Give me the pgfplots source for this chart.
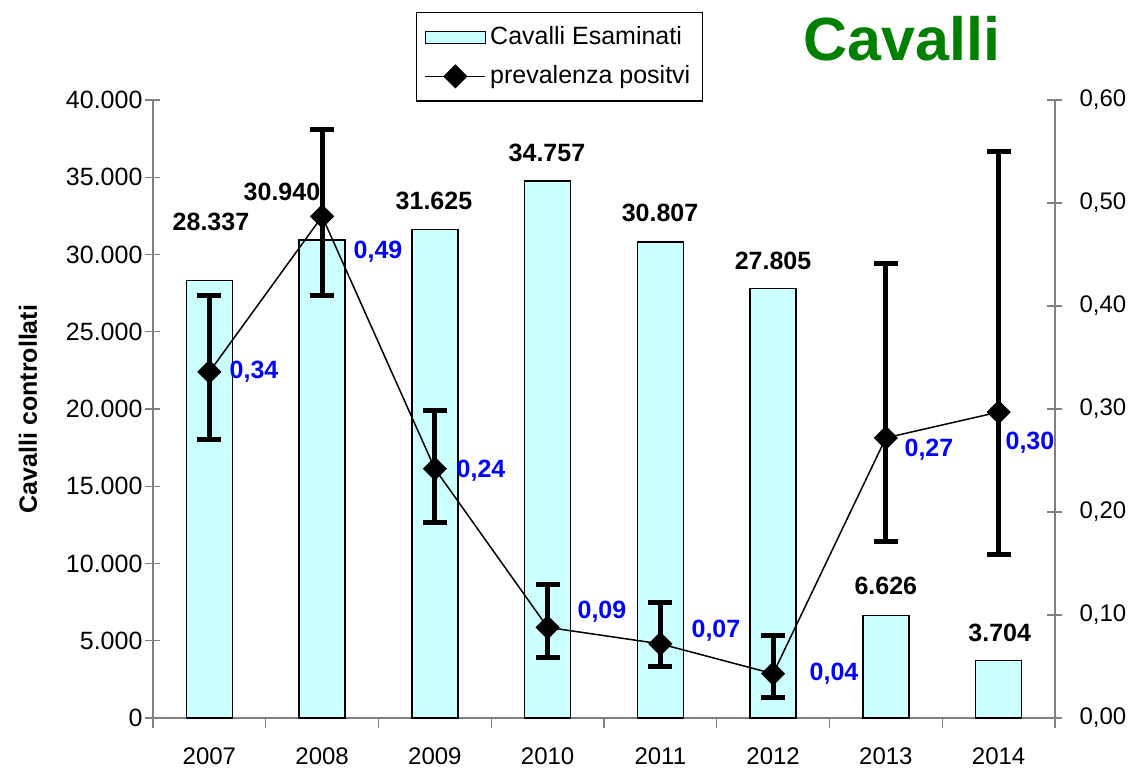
\documentclass[border=0pt]{standalone}
\usepackage{pgfplots}
\pgfplotsset{compat=1.18}
\usepackage{pgfplotstable}
\usepackage{fontspec}
\setmainfont{Liberation Sans}
\definecolor{barcyan}{HTML}{CCFFFF}
\definecolor{titlegreen}{HTML}{008000}
\definecolor{axgray}{HTML}{808080}
\definecolor{lblblue}{HTML}{0000FF}

\pgfplotstableread{
x n
0 28337
1 30940
2 31625
3 34757
4 30807
5 27805
6 6626
7 3704
}\bars

\pgfplotstableread{
x p ep em
0 0.336 0.074 0.066
1 0.487 0.084 0.077
2 0.242 0.057 0.052
3 0.088 0.042 0.029
4 0.072 0.040 0.022
5 0.043 0.037 0.023
6 0.272 0.169 0.101
7 0.297 0.253 0.138
}\prev

\pgfplotsset{common/.style={
  width=451pt, height=309pt, scale only axis,
  xmin=-0.5, xmax=7.5,
  axis line style={axgray, line width=0.7pt},
  tick style={axgray, line width=0.7pt},
  tick align=center, major tick length=7.5pt,
  ticklabel style={font=\fontsize{12.5}{14}\selectfont},
  /pgf/number format/assume math mode=true,
  clip=false,
},
barlegend/.style={legend image code/.code={\draw[fill=barcyan,draw=black,line width=0.7pt] (0pt,-3pt) rectangle (30pt,3pt);}},
linelegend/.style={legend image code/.code={\draw[mark repeat=2,mark phase=2,##1] plot coordinates {(0pt,0pt) (15pt,0pt) (30pt,0pt)};}},
}

\begin{document}
\begin{tikzpicture}
\begin{axis}[common,
  ymin=0, ymax=40000, ytick={0,5000,...,40000},
  axis x line*=bottom, axis y line*=left,
  xtick={0,...,7}, xticklabels={2007,2008,2009,2010,2011,2012,2013,2014},
  major x tick style={draw=none},
  minor xtick={-0.5,0.5,...,7.5}, minor tick length=5pt,
  minor x tick style={yshift=-2.5pt, axgray, line width=0.7pt},
  scaled y ticks=false,
  yticklabel style={xshift=2pt, /pgf/number format/.cd, 1000 sep={.}},
  xticklabel style={yshift=-7.5pt, font=\fontsize{12}{14}\selectfont},
  ylabel={\bfseries Cavalli controllati},
  ylabel style={font=\fontsize{12.5}{15}\selectfont, at={(axis description cs:-0.1386,0.5)}, anchor=center},
]
\addplot[ybar, bar width=23pt, fill=barcyan, draw=black, line width=0.7pt] table[x=x,y=n]{\bars};
\coordinate (O) at (rel axis cs:0,0);
\begin{scope}[every node/.style={font=\bfseries\fontsize{12.5}{15}\selectfont, anchor=center}]
\node at (axis cs:0.014,32104) {28.337};
\node at (axis cs:0.644,34045) {30.940};
\node at (axis cs:1.992,33463) {31.625};
\node at (axis cs:2.994,36570) {34.757};
\node at (axis cs:3.997,32686) {30.807};
\node at (axis cs:4.999,29579) {27.805};
\node at (axis cs:6.0,8544) {6.626};
\node at (axis cs:7.01,5502) {3.704};
\end{scope}
\end{axis}
\begin{axis}[common,
  ymin=0, ymax=0.6, ytick={0,0.1,0.2,0.3,0.4,0.5,0.6},
  axis y line*=right, axis x line=none,
  yticklabel style={xshift=5pt, font=\fontsize{12}{14}\selectfont, /pgf/number format/.cd, fixed, fixed zerofill, precision=2, use comma},
  legend style={at={(axis description cs:0.2916,1.1424)}, anchor=north west,
    draw=black, line width=0.7pt, font=\fontsize{12.5}{15}\selectfont,
    inner xsep=4pt, inner ysep=5pt, row sep=5pt, cells={anchor=west}},
]
\addlegendimage{barlegend}
\addlegendentry{Cavalli Esaminati}
\addplot[black, line width=0.75pt, mark=square*, mark size=3.9pt, mark options={rotate=45},
  linelegend,
  error bars/.cd, y dir=both, y explicit,
  error bar style={line width=2.5pt},
  error mark options={rotate=90, mark size=6pt, line width=2.5pt}]
  table[x=x, y=p, y error plus=ep, y error minus=em]{\prev};
\addlegendentry{prevalenza positvi}
\begin{scope}[every node/.style={font=\bfseries\fontsize{12.5}{15}\selectfont, text=lblblue, anchor=center}]
\node at (axis cs:0.396,0.336) {0,34};
\node at (axis cs:1.496,0.453) {0,49};
\node at (axis cs:2.409,0.240) {0,24};
\node at (axis cs:3.482,0.103) {0,09};
\node at (axis cs:4.493,0.0845) {0,07};
\node at (axis cs:5.540,0.0427) {0,04};
\node at (axis cs:6.382,0.260) {0,27};
\node at (axis cs:7.278,0.267) {0,30};
\end{scope}
\node[font=\bfseries\fontsize{30.5}{36}\selectfont, text=titlegreen, anchor=center] at (rel axis cs:0.830,1.100) {Cavalli};
\end{axis}
\pgfresetboundingbox
\path (O) ++(-76.5pt,-25pt) rectangle ++(565.5pt,384pt);
\end{tikzpicture}
\end{document}
